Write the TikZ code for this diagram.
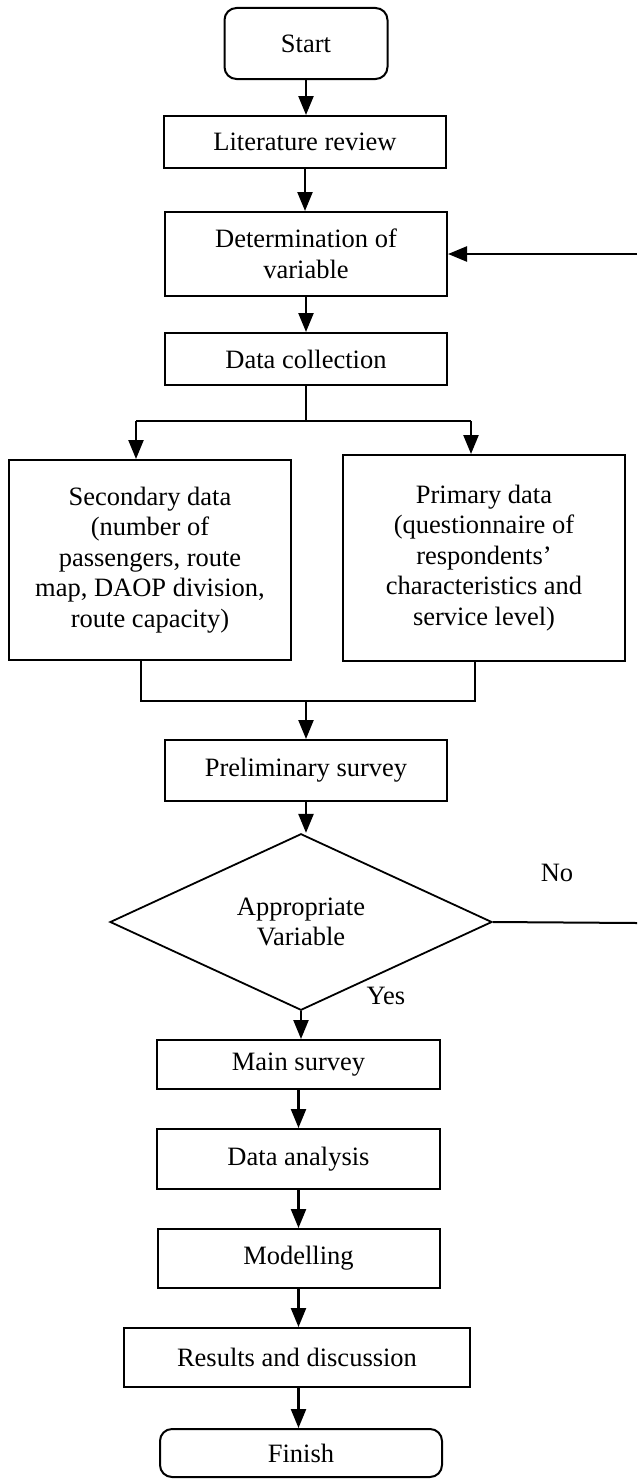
\documentclass[tikz,border=0pt]{standalone}
\usepackage{fontspec}
\setmainfont{Liberation Serif}
\usetikzlibrary{arrows.meta,shapes.geometric}
\begin{document}
\begin{tikzpicture}[x=1pt,y=-1pt,
  txt/.style={font=\fontsize{26.5}{30.5}\selectfont},
  box/.style={draw,line width=2pt,rectangle,inner sep=0pt,align=center,txt},
  term/.style={box,rounded corners=12pt},
  decision/.style={draw,line width=1.8pt,diamond,inner sep=0pt,align=center,txt},
  arr/.style={line width=2.4pt,-{Triangle[length=19pt,width=15pt]}},
  ln/.style={line width=2pt},
  thinln/.style={line width=1.2pt},
  lbl/.style={txt,inner sep=0pt}]
\useasboundingbox (0,0) rectangle (637,1480);
% nodes
\node[term,minimum width=163pt,minimum height=71pt] (start) at (306,43.5) {Start};
\node[box,minimum width=282pt,minimum height=52pt] (lit) at (305,142) {Literature review};
\node[box,minimum width=282pt,minimum height=84pt] (det) at (306,254) {Determination of\\variable};
\node[box,minimum width=282pt,minimum height=52pt] (dc) at (306,359) {Data collection};
\node[box,minimum width=282pt,minimum height=200pt] (sec) at (150,560) {Secondary data\\(number of\\passengers, route\\map, DAOP division,\\route capacity)};
\node[box,minimum width=282pt,minimum height=206pt] (pri) at (484,558) {Primary data\\(questionnaire of\\respondents'\\characteristics and\\service level)};
\node[box,minimum width=282pt,minimum height=61pt] (pre) at (306,770.5) {Preliminary survey};
\node[decision,minimum width=382pt,minimum height=162pt] (dia) at (301,922) {Appropriate\\Variable};
\node[box,minimum width=283pt,minimum height=49pt] (main) at (298.5,1064.5) {Main survey};
\node[box,minimum width=283pt,minimum height=60pt] (da) at (298.5,1159) {Data analysis};
\node[box,minimum width=282pt,minimum height=59pt] (mod) at (298.5,1258.5) {Modelling};
\node[box,minimum width=346pt,minimum height=59pt] (res) at (297,1357.5) {Results and discussion};
\node[term,minimum width=282pt,minimum height=48pt] (fin) at (301,1453) {Finish};
\node[lbl] (no) at (557,873) {No};
\node[lbl] (yes) at (386,996) {Yes};
% junction coordinates
\coordinate (split) at (306,421);
\coordinate (splitL) at (136,421);
\coordinate (splitR) at (471,421);
\coordinate (mergeL) at (141,701);
\coordinate (mergeR) at (475,701);
\coordinate (merge) at (306,701);
\coordinate (nofar) at (637,923);
\coordinate (backfar) at (637,254);
% connectors
\draw[arr] (start.south) -- (start.south |- lit.north);
\draw[arr] (lit.south) -- (lit.south |- det.north);
\draw[arr] (det.south) -- (det.south |- dc.north);
\draw[thinln] (dc.south) -- (split);
\draw[ln] (splitL) -- (splitR);
\draw[arr] (splitL) -- (splitL |- sec.north);
\draw[arr] (splitR) -- (splitR |- pri.north);
\draw[ln] (mergeL |- sec.south) -- (mergeL) -- (mergeR) -- (mergeR |- pri.south);
\draw[arr] (merge) -- (merge |- pre.north);
\draw[arr] (pre.south) -- (pre.south |- dia.north);
\draw[arr] (dia.south) -- (dia.south |- main.north);
\draw[arr] (main.south) -- (main.south |- da.north);
\draw[arr] (da.south) -- (da.south |- mod.north);
\draw[arr] (mod.south) -- (mod.south |- res.north);
\draw[arr] (mod.south |- res.south) -- (mod.south |- fin.north);
\draw[ln] (dia.east) -- (nofar);
\draw[arr] (backfar) -- (det.east);
\end{tikzpicture}
\end{document}
